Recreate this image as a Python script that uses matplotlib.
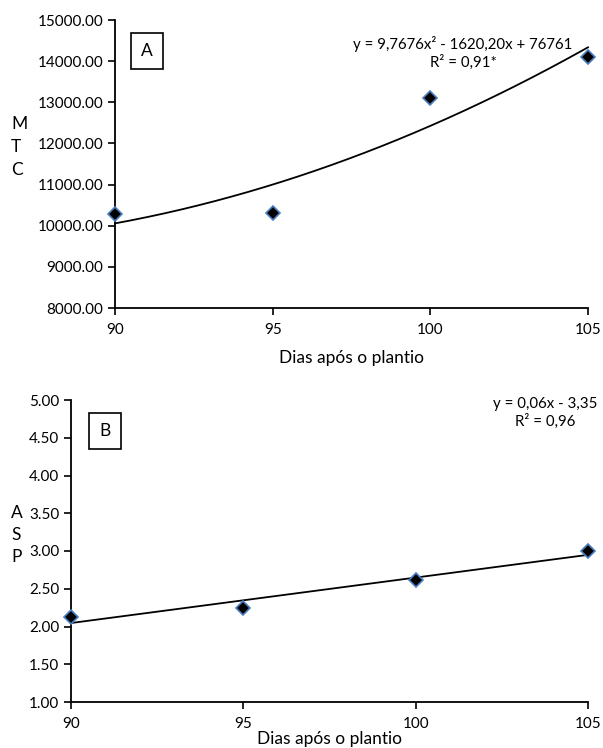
import numpy as np
import matplotlib
matplotlib.use("Agg")
import matplotlib.pyplot as plt

plt.rcParams['font.family'] = ['Lato', 'DejaVu Sans']

days = [90, 95, 100, 105]
mtc = [10285, 10315, 13112, 14108]
asp = [2.12, 2.25, 2.62, 3.00]

yticks_a = [8000, 9000, 10000, 11000, 12000, 13000, 14000, 15000]
yticks_b = [1.0, 1.5, 2.0, 2.5, 3.0, 3.5, 4.0, 4.5, 5.0]
xticks = [90, 95, 100, 105]

eq_a = "y = 9,7676x² - 1620,20x + 76761\nR² = 0,91*"
eq_b = "y = 0,06x - 3,35\nR² = 0,96"

W, H = 603, 748
fig = plt.figure(figsize=(W/100, H/100), dpi=100)

def axrect(l, t, r, b):
    return [l/W, 1 - b/H, (r-l)/W, (b-t)/H]

axA = fig.add_axes(axrect(115, 20, 588, 308))
axB = fig.add_axes(axrect(71, 400, 588, 702))

tfs = 11
lfs = 12.5
efs = 10.8

def style(ax):
    for s in ['top', 'right']:
        ax.spines[s].set_visible(False)
    for s in ['left', 'bottom']:
        ax.spines[s].set_linewidth(1.3)
        ax.spines[s].set_color('black')
    ax.tick_params(direction='out', length=5, width=1.2, labelsize=tfs, colors='black')
    ax.tick_params(axis='x', pad=6)

# Panel A
cA = np.polyfit(days, mtc, 2)
xs = np.linspace(90, 105, 200)
axA.plot(xs, np.polyval(cA, xs), color='black', lw=1.3, zorder=2, clip_on=False)
axA.plot(days, mtc, linestyle='none', marker='D', markersize=7, markerfacecolor='black',
         markeredgecolor='#4a7fc1', markeredgewidth=1.2, zorder=3, clip_on=False)
axA.set_xlim(90, 105)
axA.set_ylim(8000, 15000)
axA.set_xticks(xticks)
axA.set_yticks(yticks_a)
axA.set_yticklabels([f"{v:.2f}" for v in yticks_a])
style(axA)
axA.set_xlabel("Dias após o plantio", fontsize=lfs, labelpad=9)
fig.text(11/W, 1 - 147/H, "M\nT\nC", fontsize=lfs, ha='left', va='center', linespacing=1.55)
fig.text(147/W, 1 - 51/H, "A", fontsize=lfs, ha='center', va='center',
         bbox=dict(boxstyle='square,pad=0.6', fc='white', ec='black', lw=1.2))
fig.text(463/W, 1 - 53/H, eq_a, fontsize=efs, ha='center', va='center', linespacing=1.3)

# Panel B
cB = np.polyfit(days, asp, 1)
axB.plot(xs, np.polyval(cB, xs), color='black', lw=1.3, zorder=2, clip_on=False)
axB.plot(days, asp, linestyle='none', marker='D', markersize=7, markerfacecolor='black',
         markeredgecolor='#4a7fc1', markeredgewidth=1.2, zorder=3, clip_on=False)
axB.set_xlim(90, 105)
axB.set_ylim(1, 5)
axB.set_xticks(xticks)
axB.set_yticks(yticks_b)
axB.set_yticklabels([f"{v:.2f}" for v in yticks_b])
style(axB)
axB.set_xlabel("Dias após o plantio", fontsize=lfs, labelpad=0)
fig.text(11/W, 1 - 535/H, "A\nS\nP", fontsize=lfs, ha='left', va='center', linespacing=1.45)
fig.text(105/W, 1 - 431/H, "B", fontsize=lfs, ha='center', va='center',
         bbox=dict(boxstyle='square,pad=0.6', fc='white', ec='black', lw=1.2))
fig.text(545/W, 1 - 413/H, eq_b, fontsize=efs, ha='center', va='center', linespacing=1.3)

fig.savefig("out.png", dpi=100)
